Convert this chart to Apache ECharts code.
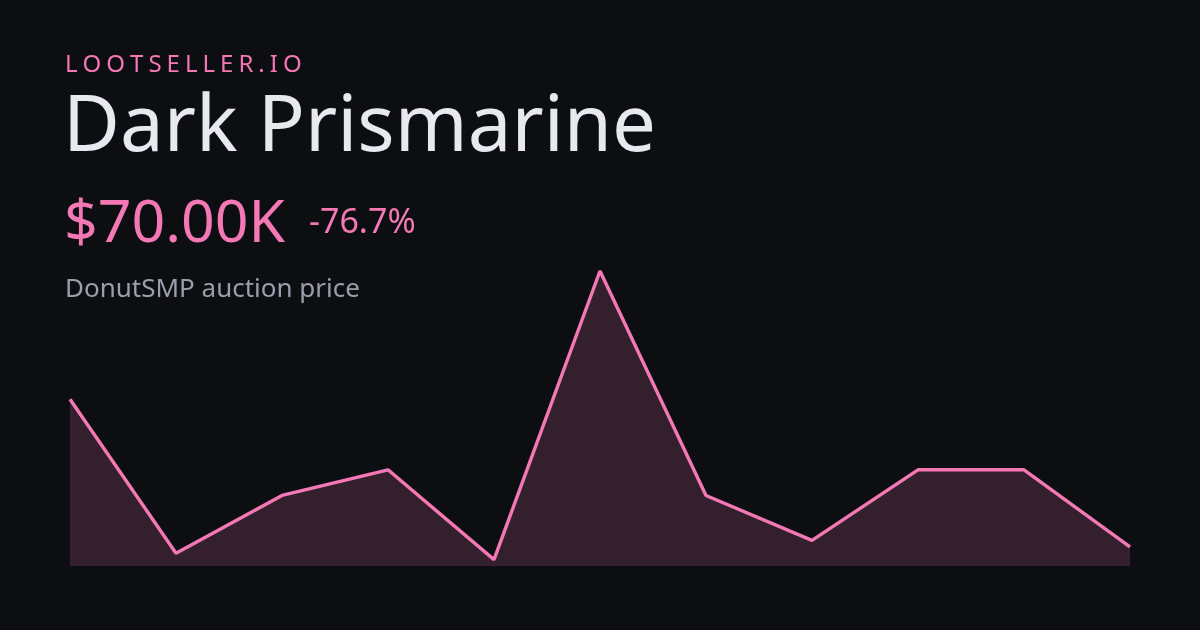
<!DOCTYPE html>
<html>
<head>
<meta charset="utf-8">
<script src="https://cdn.jsdelivr.net/npm/echarts@6/dist/echarts.min.js"></script>
<style>
html,body{margin:0;padding:0;background:#0d0e11;}
#c{width:1200px;height:630px;}
</style>
</head>
<body>
<div id="c"></div>
<script>
const categories = ['1','2','3','4','5','6','7','8','9','10','11'];
const prices = [300, 60, 150, 190, 50, 500, 150, 80, 190, 190, 70];
const brand = 'LOOTSELLER.IO';
const itemName = 'Dark Prismarine';
const priceLabel = '$70.00K';
const changeLabel = '-76.7%';
const subtitle = 'DonutSMP auction price';

const font = '"Noto Sans", "Open Sans", sans-serif';
const pink = '#f478b4';

// letter-spaced brand text
const brandFont = '400 24px ' + font;
const spacing = 5.0;
const mctx = document.createElement('canvas').getContext('2d');
mctx.font = brandFont;
const brandGraphics = [];
let bx = 65;
for (const ch of brand) {
  brandGraphics.push({type:'text', left: bx, top: 53, style:{text: ch, fill: pink, font: brandFont}});
  bx += mctx.measureText(ch).width + spacing;
}

const chart = echarts.init(document.getElementById('c'), null, {renderer:'canvas'});
chart.setOption({
  backgroundColor: '#0d0e11',
  animation: false,
  grid: {left: 70, right: 70, top: 271, bottom: 64},
  xAxis: {type: 'category', data: categories, boundaryGap: false, show: false},
  yAxis: {type: 'value', min: 40, max: 500, show: false},
  series: [{
    type: 'line',
    data: prices,
    symbol: 'none',
    lineStyle: {color: pink, width: 3.4},
    areaStyle: {color: '#33202c', opacity: 1},
    silent: true
  }],
  graphic: brandGraphics.concat([
    {type:'text', left: 63, top: 90, style:{text: itemName, fill:'#e8e9ee', font:'400 78px ' + font}},
    {type:'text', left: 64, top: 196, style:{text: priceLabel, fill: pink, font:'400 59px ' + font}},
    {type:'text', left: 309, top: 206, style:{text: changeLabel, fill: pink, font:'400 34px ' + font}},
    {type:'text', left: 65, top: 277, style:{text: subtitle, fill:'#9b9eab', font:'400 26px ' + font}}
  ])
});
</script>
</body>
</html>
